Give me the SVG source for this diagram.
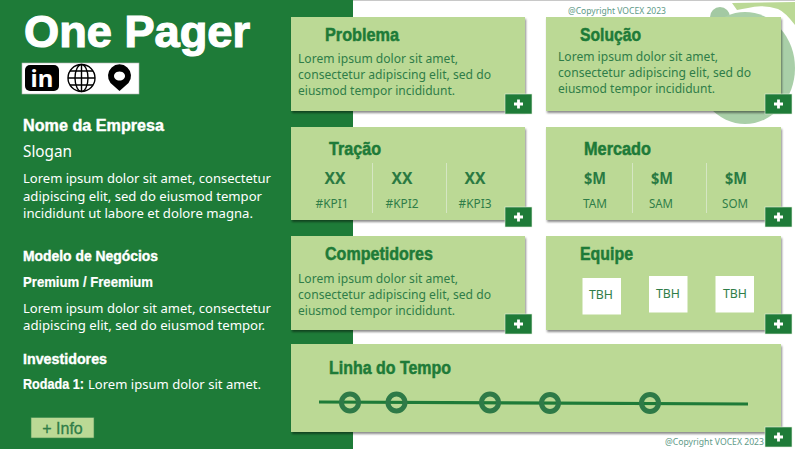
<svg xmlns="http://www.w3.org/2000/svg" width="795" height="449" viewBox="0 0 795 449">
<defs>
<filter id="sh" x="-5%" y="-10%" width="110%" height="125%"><feDropShadow dx="1" dy="2" stdDeviation="1.2" flood-color="#000" flood-opacity="0.45"/></filter>
<g id="plus"><rect x="0" y="0" width="27" height="20" fill="#1e7b38" stroke="#e4eedd" stroke-width="0.6"/><path d="M13.500 5.500v9M9 10h9" stroke="#fff" stroke-width="2.800" fill="none"/></g>
</defs>
<style>
text{font-family:"Noto Sans","Open Sans",sans-serif}
.h{font-family:"Liberation Sans",Arial,sans-serif;font-weight:700;fill:#1e7b38;font-size:18px;stroke:#1e7b38;stroke-width:0.5}
.b{font-size:12px;fill:#2f7d48}
.w{fill:#fff}
.hw{font-family:"Liberation Sans",Arial,sans-serif;font-weight:700;fill:#fff;stroke:#fff;stroke-width:0.4}
.sm{font-size:12px;fill:#2f7d48;text-anchor:middle}
.big{font-family:"Noto Sans",sans-serif;font-weight:700;font-size:16px;fill:#2a7a42;text-anchor:middle}
.card{fill:#bbd995;filter:url(#sh)}
.sep{stroke:#d5e6c3;stroke-width:1}
.c{font-size:8px;fill:#5e9a88}
.tick{fill:none;stroke:#2e7a47;stroke-width:5}
</style>
<rect width="795" height="449" fill="#fff"/>
<rect width="795" height="1" fill="#c8c8c8"/>
<rect y="0" width="353" height="449" fill="#1e7b38"/>
<g id="decor">
<path d="M732 3 L795 2 V25 Q785 12 778 9 Q762 4 748 8 Q742 9 737 10Z" fill="#bbd995"/>
<circle cx="720" cy="17" r="10" fill="#a3c9a3"/>
<ellipse cx="745" cy="68" rx="50" ry="56" fill="#a9cfa8"/>
</g>
<g id="sidebar">
<text class="hw" x="24" y="47" font-size="44" textLength="226" lengthAdjust="spacingAndGlyphs" style="stroke-width:1.200">One Pager</text>
<g id="icons">
<rect x="22" y="63" width="117" height="31" fill="#fff" stroke="#b5b5b5" stroke-width="0.6"/>
<rect x="25" y="65" width="34" height="26" rx="5" fill="#000"/>
<text x="42" y="87" font-family="Liberation Sans" font-weight="700" font-size="24" fill="#fff" text-anchor="middle">in</text>
<g fill="none" stroke="#000" stroke-width="1.400"><circle cx="81.500" cy="78" r="13.500"/><ellipse cx="81.500" cy="78" rx="6.500" ry="13.500"/><path d="M81.500 64.500v27M68 78h27M70 71h23M70 85h23"/></g>
<path fill="#000" fill-rule="evenodd" d="M119.500 91L110.500 83A11.500 11.500 0 1 1 128.500 83ZM119.500 71.500a5.500 4.500 0 1 0 .01 0Z"/>
</g>
<text class="hw" x="23" y="131" font-size="16" textLength="141" lengthAdjust="spacingAndGlyphs">Nome da Empresa</text>
<text class="w" x="23" y="157" font-size="16" textLength="49" lengthAdjust="spacingAndGlyphs">Slogan</text>
<text class="w" x="23" y="183" font-size="13" textLength="248" lengthAdjust="spacingAndGlyphs">Lorem ipsum dolor sit amet, consectetur</text>
<text class="w" x="23" y="200.500" font-size="13" textLength="239" lengthAdjust="spacingAndGlyphs">adipiscing elit, sed do eiusmod tempor</text>
<text class="w" x="23" y="218" font-size="13" textLength="230" lengthAdjust="spacingAndGlyphs">incididunt ut labore et dolore magna.</text>
<text class="hw" x="23" y="261" font-size="15" textLength="135" lengthAdjust="spacingAndGlyphs">Modelo de Negócios</text>
<text class="hw" x="23" y="287" font-size="14" textLength="130" lengthAdjust="spacingAndGlyphs" style="stroke-width:0.200">Premium / Freemium</text>
<text class="w" x="23" y="313" font-size="13" textLength="248" lengthAdjust="spacingAndGlyphs">Lorem ipsum dolor sit amet, consectetur</text>
<text class="w" x="23" y="330" font-size="13" textLength="242" lengthAdjust="spacingAndGlyphs">adipiscing elit, sed do eiusmod tempor.</text>
<text class="hw" x="23" y="364" font-size="15.500" textLength="84" lengthAdjust="spacingAndGlyphs">Investidores</text>
<text class="hw" x="23" y="389" font-size="14" textLength="61" lengthAdjust="spacingAndGlyphs" style="stroke-width:0.200">Rodada 1:</text>
<text class="w" x="88" y="389" font-size="13" textLength="173" lengthAdjust="spacingAndGlyphs">Lorem ipsum dolor sit amet.</text>
<g id="info"><rect x="31" y="417.500" width="63" height="20.500" fill="#bbd995" stroke="#3d8a4f" stroke-width="0.6"/><text x="62.500" y="434" style="font-family:'Liberation Sans',sans-serif" font-size="16" fill="#2f7d48" text-anchor="middle" stroke="#2f7d48" stroke-width="0.3">+ Info</text></g>
</g>
<g id="problema"><rect class="card" x="291" y="17" width="234" height="94"/>
<text class="h" x="325" y="41" textLength="74" lengthAdjust="spacingAndGlyphs">Problema</text>
<text class="b" x="298" y="63" textLength="160" lengthAdjust="spacingAndGlyphs">Lorem ipsum dolor sit amet,</text>
<text class="b" x="298" y="79" textLength="193" lengthAdjust="spacingAndGlyphs">consectetur adipiscing elit, sed do</text>
<text class="b" x="298" y="95" textLength="157" lengthAdjust="spacingAndGlyphs">eiusmod tempor incididunt.</text>
<use href="#plus" x="505" y="94"/></g>
<g id="solucao"><rect class="card" x="546" y="17" width="235" height="94"/>
<text class="h" x="580" y="41" textLength="61" lengthAdjust="spacingAndGlyphs">Solução</text>
<text class="b" x="558" y="61" textLength="160" lengthAdjust="spacingAndGlyphs">Lorem ipsum dolor sit amet,</text>
<text class="b" x="558" y="77" textLength="193" lengthAdjust="spacingAndGlyphs">consectetur adipiscing elit, sed do</text>
<text class="b" x="558" y="93" textLength="157" lengthAdjust="spacingAndGlyphs">eiusmod tempor incididunt.</text>
<use href="#plus" x="765" y="94"/></g>
<g id="tracao"><rect class="card" x="291" y="127" width="234" height="93"/>
<text class="h" x="329" y="155" textLength="52" lengthAdjust="spacingAndGlyphs">Tração</text>
<path class="sep" d="M372.500 163v50M446.500 163v50"/>
<text class="big" x="335" y="184" textLength="21" lengthAdjust="spacingAndGlyphs">XX</text><text class="big" x="402" y="184" textLength="21" lengthAdjust="spacingAndGlyphs">XX</text><text class="big" x="475" y="184" textLength="21" lengthAdjust="spacingAndGlyphs">XX</text>
<text class="sm" x="332" y="208" textLength="33" lengthAdjust="spacingAndGlyphs">#KPI1</text><text class="sm" x="402" y="208" textLength="33" lengthAdjust="spacingAndGlyphs">#KPI2</text><text class="sm" x="475" y="208" textLength="33" lengthAdjust="spacingAndGlyphs">#KPI3</text>
<use href="#plus" x="505" y="207"/></g>
<g id="mercado"><rect class="card" x="546" y="127" width="235" height="93"/>
<text class="h" x="584" y="155" textLength="67" lengthAdjust="spacingAndGlyphs">Mercado</text>
<path class="sep" d="M632.500 163v50M706.500 163v50"/>
<text class="big" x="595" y="184" textLength="22" lengthAdjust="spacingAndGlyphs">$M</text><text class="big" x="662" y="184" textLength="22" lengthAdjust="spacingAndGlyphs">$M</text><text class="big" x="736" y="184" textLength="22" lengthAdjust="spacingAndGlyphs">$M</text>
<text class="sm" x="595" y="208" textLength="24" lengthAdjust="spacingAndGlyphs">TAM</text><text class="sm" x="661" y="208" textLength="24" lengthAdjust="spacingAndGlyphs">SAM</text><text class="sm" x="735" y="208" textLength="26" lengthAdjust="spacingAndGlyphs">SOM</text>
<use href="#plus" x="765" y="207"/></g>
<g id="competidores"><rect class="card" x="291" y="236" width="234" height="94"/>
<text class="h" x="325" y="260" textLength="108" lengthAdjust="spacingAndGlyphs">Competidores</text>
<text class="b" x="298" y="283" textLength="160" lengthAdjust="spacingAndGlyphs">Lorem ipsum dolor sit amet,</text>
<text class="b" x="298" y="299" textLength="193" lengthAdjust="spacingAndGlyphs">consectetur adipiscing elit, sed do</text>
<text class="b" x="298" y="315" textLength="157" lengthAdjust="spacingAndGlyphs">eiusmod tempor incididunt.</text>
<use href="#plus" x="505" y="314"/></g>
<g id="equipe"><rect class="card" x="546" y="236" width="235" height="94"/>
<text class="h" x="580" y="260" textLength="53" lengthAdjust="spacingAndGlyphs">Equipe</text>
<rect x="582.500" y="278" width="38.500" height="36.500" fill="#fff"/><rect x="649" y="276" width="38.500" height="36.500" fill="#fff"/><rect x="715.500" y="276" width="38.500" height="36.500" fill="#fff"/>
<text class="sm" x="601" y="299" textLength="24" lengthAdjust="spacingAndGlyphs">TBH</text><text class="sm" x="668" y="298" textLength="24" lengthAdjust="spacingAndGlyphs">TBH</text><text class="sm" x="735" y="298" textLength="24" lengthAdjust="spacingAndGlyphs">TBH</text>
<use href="#plus" x="765" y="314"/></g>
<g id="linha"><rect class="card" x="291" y="344" width="490" height="88"/>
<text class="h" x="329" y="374" textLength="122" lengthAdjust="spacingAndGlyphs">Linha do Tempo</text>
<path d="M319 402L748 404" stroke="#1e7b38" stroke-width="3.200" fill="none"/>
<circle class="tick" cx="350" cy="402.500" r="8.500"/><circle class="tick" cx="396.500" cy="402.500" r="8.500"/><circle class="tick" cx="490" cy="402.500" r="8.500"/><circle class="tick" cx="550" cy="403" r="8.500"/><circle class="tick" cx="650" cy="403" r="8.500"/>
<use href="#plus" x="765" y="427"/></g>
<text class="c" x="568" y="14" textLength="98" lengthAdjust="spacingAndGlyphs">@Copyright VOCEX 2023</text>
<text class="c" x="665" y="445" textLength="99" lengthAdjust="spacingAndGlyphs">@Copyright VOCEX 2023</text>
</svg>
